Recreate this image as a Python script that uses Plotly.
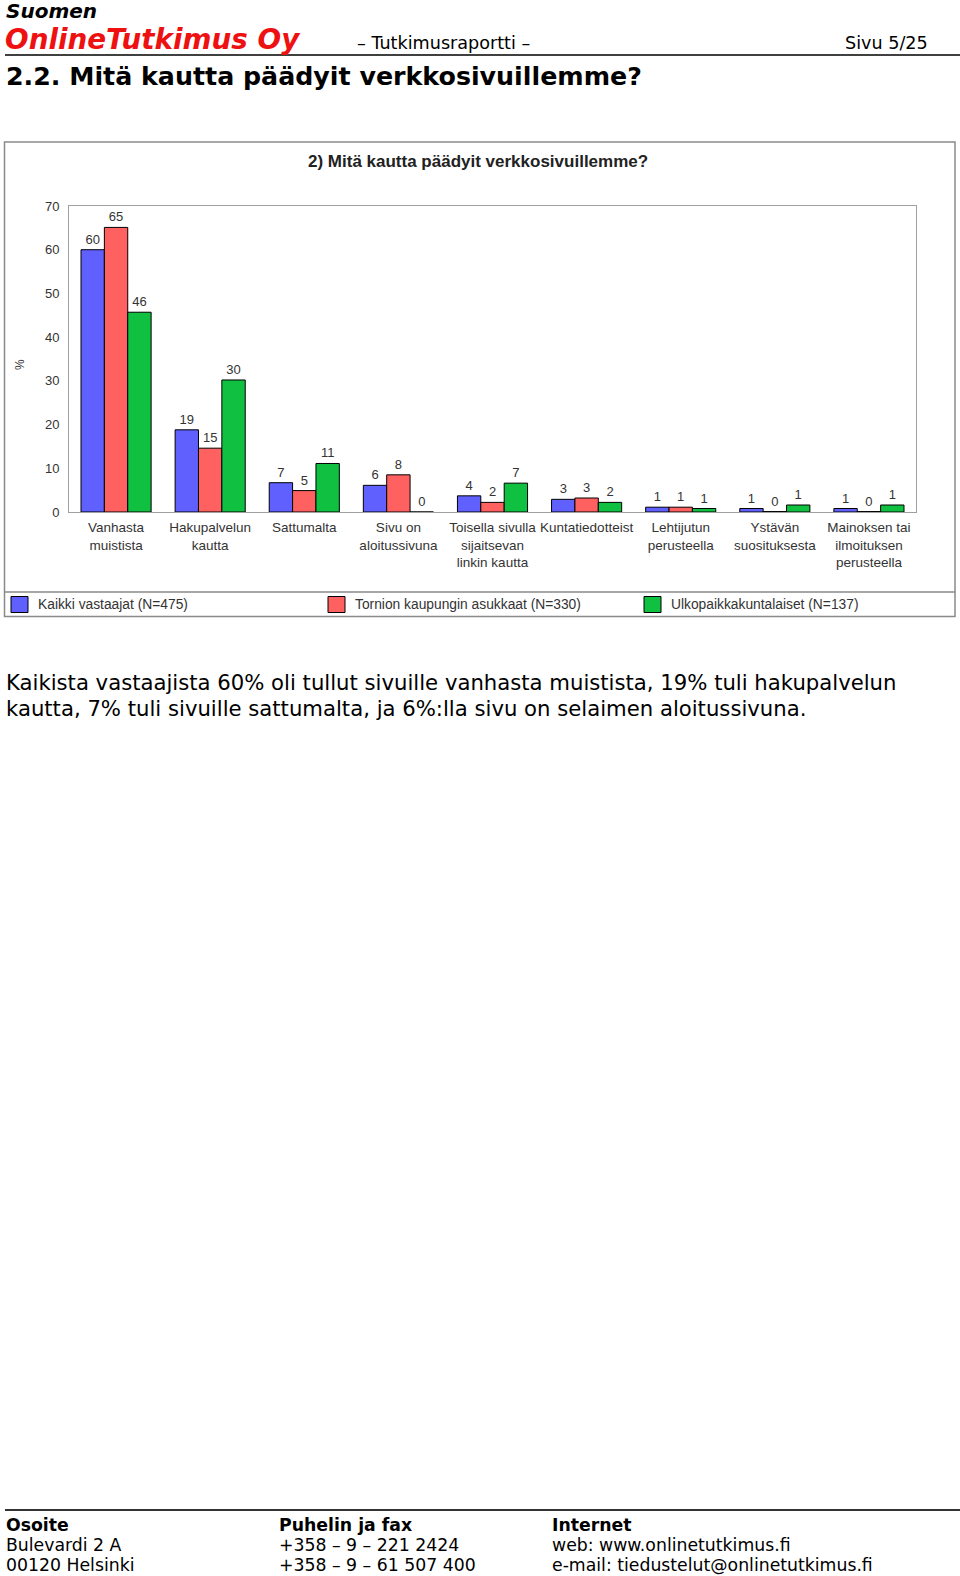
import plotly.graph_objects as go

# ---------------- data ----------------
categories = [
    "Vanhasta<br>muistista",
    "Hakupalvelun<br>kautta",
    "Sattumalta",
    "Sivu on<br>aloitussivuna",
    "Toisella sivulla<br>sijaitsevan<br>linkin kautta",
    "Kuntatiedotteist",
    "Lehtijutun<br>perusteella",
    "Ystävän<br>suosituksesta",
    "Mainoksen tai<br>ilmoituksen<br>perusteella",
]
series_names = ["Kaikki vastaajat (N=475)", "Tornion kaupungin asukkaat (N=330)", "Ulkopaikkakuntalaiset (N=137)"]
kaikki = [60.0, 18.8, 6.7, 6.1, 3.7, 2.9, 1.1, 0.8, 0.8]
tornio = [65.1, 14.6, 4.9, 8.5, 2.2, 3.2, 1.1, 0.1, 0.1]
ulko = [45.7, 30.2, 11.1, 0.0, 6.6, 2.2, 0.8, 1.6, 1.6]
kaikki_lbl = ["60", "19", "7", "6", "4", "3", "1", "1", "1"]
tornio_lbl = ["65", "15", "5", "8", "2", "3", "1", "0", "0"]
ulko_lbl = ["46", "30", "11", "0", "7", "2", "1", "1", "1"]
y_ticks = [0, 10, 20, 30, 40, 50, 60, 70]
colors = ["rgb(96,96,255)", "rgb(255,96,96)", "rgb(16,192,64)"]

# ---------------- layout geometry (pixels) ----------------
W, H = 960, 1576
L, R, T, B = 69, 916, 206, 512
PW, PH = R - L, B - T


def X(px):
    return (px - L) / PW


def Y(py):
    return (B - py) / PH


CHART_FONT = "Liberation Sans, Arial, sans-serif"
DOC_FONT = "DejaVu Sans, Verdana, sans-serif"

fig = go.Figure()
for vals, lbls, name, col in zip([kaikki, tornio, ulko], [kaikki_lbl, tornio_lbl, ulko_lbl], series_names, colors):
    fig.add_trace(go.Bar(
        x=categories, y=vals, name=name, text=lbls,
        textposition="outside", constraintext="none", cliponaxis=False,
        textfont=dict(family=CHART_FONT, size=13, color="#333333"),
        marker=dict(color=col, line=dict(color="black", width=1)),
        showlegend=False,
    ))

annotations = []
shapes = []


def txt(x, y, s, size, color="black", family=DOC_FONT, xanchor="left", bold=False, italic=False, angle=0):
    if bold:
        s = "<b>" + s + "</b>"
    if italic:
        s = "<i>" + s + "</i>"
    annotations.append(dict(x=X(x), y=Y(y), xref="paper", yref="paper", text=s, showarrow=False,
                            xanchor=xanchor, yanchor="middle", textangle=angle,
                            font=dict(family=family, size=size, color=color)))


# header
txt(4, 11, "Suomen", 20, bold=True, italic=True)
txt(3, 40, "OnlineTutkimus Oy", 27.8, color="#ee1111", bold=True, italic=True)
txt(355, 43, "– Tutkimusraportti –", 17.6)
txt(930, 43, "Sivu 5/25", 17.6, xanchor="right")
shapes.append(dict(type="line", xref="paper", yref="paper", x0=X(5), x1=X(960), y0=Y(55), y1=Y(55),
                   line=dict(color="black", width=1.5)))
txt(4, 77, "2.2. Mitä kautta päädyit verkkosivuillemme?", 25.3, bold=True)

# chart frame
shapes.append(dict(type="rect", xref="paper", yref="paper", x0=X(4.5), x1=X(955), y0=Y(142), y1=Y(616.5),
                   line=dict(color="#8a8a8a", width=1.5), layer="below"))
shapes.append(dict(type="line", xref="paper", yref="paper", x0=X(4.5), x1=X(955), y0=Y(592), y1=Y(592),
                   line=dict(color="#8a8a8a", width=1.5)))
txt(478, 161, "2) Mitä kautta päädyit verkkosivuillemme?", 17, color="#222222", family=CHART_FONT,
    xanchor="center", bold=True)
txt(20, 365, "%", 12, color="#333333", family=CHART_FONT, xanchor="center", angle=-90)

# legend
leg_x = [11, 328, 644]
for lx, name, col in zip(leg_x, series_names, colors):
    shapes.append(dict(type="rect", xref="paper", yref="paper", x0=X(lx), x1=X(lx + 17), y0=Y(596.5), y1=Y(612.5),
                       fillcolor=col, line=dict(color="black", width=1)))
    txt(lx + 25, 604, name, 13.8, color="#333333", family=CHART_FONT)

# body text
txt(4, 682, "Kaikista vastaajista 60% oli tullut sivuille vanhasta muistista, 19% tuli hakupalvelun", 21.2)
txt(4, 708, "kautta, 7% tuli sivuille sattumalta, ja 6%:lla sivu on selaimen aloitussivuna.", 21.2)

# footer
shapes.append(dict(type="line", xref="paper", yref="paper", x0=X(5), x1=X(960), y0=Y(1510), y1=Y(1510),
                   line=dict(color="#333333", width=2)))
footer_cols = [
    (4, ["Osoite", "Bulevardi 2 A", "00120 Helsinki"]),
    (277, ["Puhelin ja fax", "+358 – 9 – 221 2424", "+358 – 9 – 61 507 400"]),
    (550, ["Internet", "web: www.onlinetutkimus.fi", "e-mail: tiedustelut@onlinetutkimus.fi"]),
]
for fx, lines in footer_cols:
    for i, line in enumerate(lines):
        txt(fx, 1525 + i * 20, line, 17.3, bold=(i == 0))

fig.update_layout(
    width=W, height=H,
    margin=dict(l=L, r=W - R, t=T, b=H - B, pad=0),
    paper_bgcolor="white", plot_bgcolor="white",
    barmode="group", bargap=0.255, bargroupgap=0,
    annotations=annotations, shapes=shapes,
    showlegend=False,
    xaxis=dict(type="category", tickangle=0, showgrid=False, ticks="", showline=True, mirror=True,
               linecolor="#a0a0a0", linewidth=1, ticklabelstandoff=3,
               tickfont=dict(family=CHART_FONT, size=13.5, color="#333333")),
    yaxis=dict(range=[0, 70], tickvals=y_ticks, showgrid=False, zeroline=False, ticks="", showline=True,
               mirror=True, linecolor="#a0a0a0", linewidth=1, ticklabelstandoff=6,
               tickfont=dict(family=CHART_FONT, size=13, color="#333333")),
)

fig.write_html("out.html")
